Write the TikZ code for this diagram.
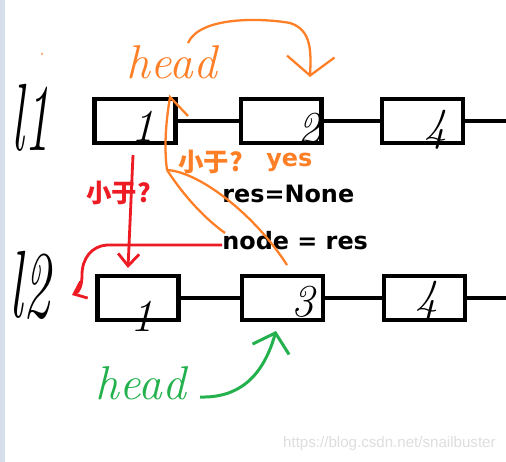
\documentclass[tikz,border=0pt]{standalone}
\usepackage{fontspec}
\usetikzlibrary{arrows.meta, positioning, calc}
\newfontfamily\cjkfont{Noto Sans CJK SC}
\newfontfamily\labelfont{DejaVu Sans}
\newfontfamily\markfont{Liberation Sans}
\definecolor{penorange}{RGB}{255,127,39}
\definecolor{penred}{RGB}{237,28,36}
\definecolor{pengreen}{RGB}{34,177,76}
\definecolor{sidebar}{RGB}{214,222,235}
\definecolor{markgray}{RGB}{222,222,222}

\begin{document}
\begin{tikzpicture}[x=0.02cm, y=-0.02cm,
  listnode/.style={draw, line width=2.3pt, minimum width=1.62cm, minimum height=0.88cm, inner sep=0pt},
  link/.style={line width=2.3pt},
  digit/.style={font=\fontsize{26}{26}\selectfont\itshape, inner sep=0pt},
  handlabel/.style={font=\fontsize{27}{27}\selectfont\itshape, inner sep=0pt},
  opath/.style={draw=penorange, line width=1.3pt},
  rpath/.style={draw=penred, line width=1.6pt},
  gpath/.style={draw=pengreen, line width=1.7pt},
  note/.style={font=\labelfont\fontsize{13.6}{15}\selectfont\bfseries, inner sep=0pt, anchor=west},
  cjknote/.style={font=\cjkfont\fontsize{14.5}{16}\selectfont\bfseries, inner sep=0pt, anchor=west}
]
\fill[white] (0,0) rectangle (506,462);
\fill[sidebar] (0,0) rectangle (5,462);
\useasboundingbox (0,0) rectangle (506,462);

% list 1
\node[listnode] (a1) at (135,121) {};
\node[listnode, right=1.22cm of a1] (a2) {};
\node[listnode, right=1.12cm of a2] (a3) {};
\coordinate (a3end) at ($(a3.east)+(45,0)$);
\draw[link] (a1.east) -- (a2.west);
\draw[link] (a2.east) -- (a3.west);
\draw[link] (a3.east) -- (a3end);
\node[digit] (d11) at (143,126) {1};
\node[digit] (d12) at (309,129) {2};
\node[digit] (d13) at (436,130) {4};

% list 2
\node[listnode] (b1) at (138,298) {};
\node[listnode, right=1.19cm of b1] (b2) {};
\node[listnode, right=1.14cm of b2] (b3) {};
\coordinate (b3end) at ($(b3.east)+(45,0)$);
\draw[link] (b1.east) -- (b2.west);
\draw[link] (b2.east) -- (b3.west);
\draw[link] (b3.east) -- (b3end);
\node[digit] (d21) at (142,316) {1};
\node[digit] (d22) at (303,302) {3};
\node[digit] (d23) at (427,301) {4};

% list names
\node[inner sep=0pt, font=\fontsize{34}{34}\selectfont\itshape] (l1) at (31,118) {\scalebox{0.85}[1.6]{l1}};
\node[inner sep=0pt, font=\fontsize{34}{34}\selectfont\itshape] (l2) at (30,285) {\scalebox{0.9}[1.6]{l2}};

% texts
\node[cjknote, text=penred] (q1) at (86,193) {小于?};
\node[cjknote, text=penorange] (q2) at (178,162) {小于?};
\node[note, text=penorange] (yes) at (266,162) {yes};
\node[note] (resnone) at (222,194) {res=None};
\node[note] (noderes) at (222,241) {node = res};

% orange: head of l1
\node[handlabel, text=penorange] (head1) at (172,62) {head};
\fill[penorange] (42,54) circle (1);
\coordinate (h1arc) at (188,43);
\coordinate (h1tip) at (310,77);
\draw[opath, -{Straight Barb[length=0.38cm, width=0.95cm]}] (h1arc) .. controls (200,16) and (262,18) .. (290,23) .. controls (312,30) and (311,52) .. (h1tip);

\coordinate (o1) at (287,265);
\coordinate (o2) at (225,233);
\coordinate (ojoin) at (167,170);
\coordinate (otop) at (170,97);
\coordinate (obarb) at (188,116);
\draw[opath] (o1) .. controls (255,215) and (200,172) .. (ojoin);
\draw[opath] (o2) .. controls (200,215) and (180,190) .. (ojoin);
\draw[opath] (ojoin) .. controls (163,140) and (168,110) .. (otop) -- (obarb);

% red
\coordinate (r0) at (133,155);
\coordinate (rtip) at (128,268);
\draw[rpath, -{Straight Barb[length=0.24cm, width=0.42cm]}] (r0) -- (rtip);
\coordinate (rbend) at (107,245);
\coordinate (rend) at (72,295);
\draw[rpath, -{Straight Barb[length=0.22cm, width=0.36cm]}] ($(noderes.west)+(0,4)$) -- (rbend) .. controls (92,246) and (82,258) .. (82,275) .. controls (82,286) and (79,292) .. (rend);

% green: head of l2
\node[handlabel, text=pengreen] (head2) at (141,383) {head};
\coordinate (gstart) at (200,397);
\coordinate (gtip) at (276,331);
\draw[gpath, -{Straight Barb[length=0.34cm, width=0.76cm]}] (gstart) .. controls (236,398) and (262,380) .. (gtip);

\node[inner sep=0pt, anchor=east, text=markgray, font=\markfont\fontsize{8.6}{10}\selectfont] (mark) at (496,444) {https://blog.csdn.net/snailbuster};
\end{tikzpicture}
\end{document}
